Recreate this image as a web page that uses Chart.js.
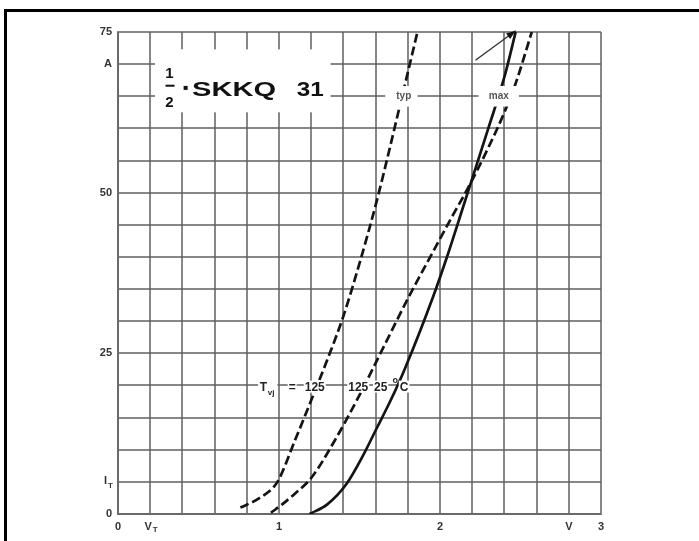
<!DOCTYPE html>
<html>
<head>
<meta charset="utf-8">
<script src="https://cdn.jsdelivr.net/npm/chart.js@4.4.1/dist/chart.umd.min.js"></script>
<style>
  html, body { margin: 0; padding: 0; background: #fff; overflow: hidden; }
  #wrap { width: 699px; height: 541px; position: relative; }
</style>
</head>
<body>
<div id="wrap"><canvas id="chart"></canvas></div>
<script>
// ── Data (V_T in volts, I_T in amps) ──────────────────────────────────────────
const TYP125_V = [0.76, 0.88, 0.99, 1.10, 1.20, 1.30, 1.40, 1.50, 1.61, 1.76, 1.86];
const TYP125_I = [1.0,  2.5,  5.0,  11.5, 17.7, 24,   30.8, 39,   49,   64.5, 75];

const MAX125_V = [0.95, 1.02, 1.10, 1.20, 1.35, 1.50, 1.65, 1.80, 1.95, 2.08, 2.18, 2.30, 2.40, 2.47, 2.57];
const MAX125_I = [0.2,  1.5,  3.2,  5.6,  11.6, 18.5, 26,   33.5, 40.5, 46.5, 51,   57,   62.5, 67,   75];

const MAX25_V  = [1.19, 1.30, 1.42, 1.52, 1.61, 1.69, 1.78, 1.96, 2.05, 2.14, 2.30, 2.40, 2.47];
const MAX25_I  = [0,    1.5,  4.7,  9.0,  13.5, 17.5, 22.5, 34,   40.5, 47.5, 60,   68,   75];

const X_LABELS = { 0: '0', 10: '1', 20: '2', 28: 'V', 30: '3' };   // keyed by tenths of a volt
const Y_LABELS = { 0: '0', 25: '25', 50: '50', 70: 'A', 75: '75' };

const INK  = '#141414';
const GRID = 'rgba(95,95,95,0.75)';
const TICK = '#333';
const FONT = 'Liberation Sans, Arial, sans-serif';

const pts = (xs, ys) => xs.map((x, i) => ({ x, y: ys[i] }));

function curveDS(label, data, dash) {
  return {
    label, data,
    showLine: true,
    borderColor: INK,
    borderWidth: 2.7,
    borderDash: dash,
    pointRadius: 0,
    cubicInterpolationMode: 'monotone',
    fill: false,
  };
}

// ── Annotations: title, curve tags, frame ─────────────────────────────────────
function stretchText(ctx, txt, x, y, width) {
  const w = ctx.measureText(txt).width;
  ctx.save();
  ctx.translate(x, y);
  ctx.scale(width / w, 1);
  ctx.fillText(txt, 0, 0);
  ctx.restore();
}

function whiteBox(ctx, x0, y0, x1, y1) {
  ctx.fillStyle = '#fff';
  ctx.fillRect(Math.min(x0, x1), Math.min(y0, y1), Math.abs(x1 - x0), Math.abs(y1 - y0));
}

// text with a white patch behind it, like the gaps in the scanned curves
function patchedText(ctx, txt, x, y, pad = 1) {
  const w = ctx.measureText(txt).width;
  const fill = ctx.fillStyle;
  whiteBox(ctx, x - pad, y - 10, x + w + pad, y + 2);
  ctx.fillStyle = fill;
  ctx.fillText(txt, x, y);
}

const annotations = {
  id: 'annotations',
  beforeDraw(chart) {
    const ctx = chart.ctx;
    ctx.save();
    ctx.fillStyle = '#000';
    ctx.fillRect(4, 9, 695, 3);     // frame top
    ctx.fillRect(4, 9, 3, 541 - 9); // frame left
    ctx.restore();
  },
  beforeDatasetsDraw(chart) {
    const { ctx, scales: { x, y } } = chart;
    const X = v => x.getPixelForValue(v);
    const Y = i => y.getPixelForValue(i);
    ctx.save();
    // title area is blank in the original
    whiteBox(ctx, X(0.23), Y(72.3), X(1.32), Y(62.5));
    ctx.fillStyle = '#111';
    ctx.textBaseline = 'alphabetic';
    ctx.font = `bold 15px ${FONT}`;
    ctx.textAlign = 'center';
    ctx.fillText('1', X(0.32), Y(67.8));
    ctx.fillRect(X(0.32) - 4, Y(66.8), 9, 2);
    ctx.fillText('2', X(0.32), Y(63.3));
    ctx.fillRect(X(0.42) - 2, Y(66.3) - 2, 4, 4);
    ctx.textAlign = 'left';
    ctx.font = `bold 21px ${FONT}`;
    stretchText(ctx, 'SKKQ', X(0.46), Y(65.0), 84);
    stretchText(ctx, '31', X(1.11), Y(65.0), 27);
    ctx.restore();
  },
  afterDatasetsDraw(chart) {
    const { ctx, scales: { x, y } } = chart;
    const X = v => x.getPixelForValue(v);
    const Y = i => y.getPixelForValue(i);
    ctx.save();

    // typ / max tags sitting on the 65 A line
    ctx.font = `bold 10px ${FONT}`;
    ctx.textAlign = 'center';
    ctx.textBaseline = 'middle';
    whiteBox(ctx, X(1.66), Y(66.6), X(1.86), Y(63.4));
    whiteBox(ctx, X(2.24), Y(66.6), X(2.49), Y(63.4));
    ctx.fillStyle = '#555';
    ctx.fillText('typ', X(1.775), Y(65.0));
    ctx.fillText('max', X(2.365), Y(65.0));

    // arrow from the max tag up to the curve ends
    ctx.strokeStyle = '#333';
    ctx.lineWidth = 1.4;
    const ax0 = X(2.22), ay0 = Y(70.6), ax1 = X(2.47), ay1 = Y(75.2);
    ctx.beginPath(); ctx.moveTo(ax0, ay0); ctx.lineTo(ax1, ay1); ctx.stroke();
    const ang = Math.atan2(ay1 - ay0, ax1 - ax0);
    ctx.fillStyle = INK;
    ctx.beginPath();
    ctx.moveTo(ax1, ay1);
    ctx.lineTo(ax1 - 10 * Math.cos(ang - 0.35), ay1 - 10 * Math.sin(ang - 0.35));
    ctx.lineTo(ax1 - 10 * Math.cos(ang + 0.35), ay1 - 10 * Math.sin(ang + 0.35));
    ctx.closePath(); ctx.fill();

    // T_vj = 125 125 25 °C
    ctx.textAlign = 'left';
    ctx.textBaseline = 'alphabetic';
    const base = Y(19.2);
    ctx.font = `bold 12px ${FONT}`;
    whiteBox(ctx, X(0.87), base - 11, X(0.99), base + 5);
    ctx.fillStyle = '#222';
    ctx.fillText('T', X(0.88), base);
    ctx.font = `bold 8px ${FONT}`;
    ctx.fillText('vj', X(0.88) + 8, base + 4);
    ctx.font = `bold 12px ${FONT}`;
    patchedText(ctx, '=', X(1.06), base);
    patchedText(ctx, '125', X(1.16), base);
    patchedText(ctx, '125', X(1.43), base);
    patchedText(ctx, '25', X(1.59), base);
    ctx.font = `bold 9px ${FONT}`;
    ctx.fillText('o', X(1.705), base - 8);
    ctx.font = `bold 12px ${FONT}`;
    patchedText(ctx, 'C', X(1.75), base);

    // subscripted tick labels: V_T on x, I_T on y
    ctx.fillStyle = TICK;
    ctx.font = `bold 11px ${FONT}`;
    ctx.textAlign = 'center';
    ctx.textBaseline = 'top';
    ctx.fillText('V', X(0.2) - 2, y.bottom + 7);
    ctx.font = `bold 8px ${FONT}`;
    ctx.fillText('T', X(0.2) + 5, y.bottom + 12);
    ctx.textAlign = 'right';
    ctx.textBaseline = 'middle';
    ctx.font = `bold 11px ${FONT}`;
    ctx.fillText('I', x.left - 11, Y(5) - 1);
    ctx.font = `bold 8px ${FONT}`;
    ctx.fillText('T', x.left - 5, Y(5) + 4);
    ctx.restore();
  },
};

// ── Chart ─────────────────────────────────────────────────────────────────────
new Chart(document.getElementById('chart').getContext('2d'), {
  type: 'scatter',
  data: {
    datasets: [
      curveDS('125 °C typ', pts(TYP125_V, TYP125_I), [9, 4]),
      curveDS('125 °C max', pts(MAX125_V, MAX125_I), [9, 4]),
      curveDS('25 °C max',  pts(MAX25_V,  MAX25_I),  []),
    ],
  },
  options: {
    responsive: true, maintainAspectRatio: false, animation: false,
    layout: { padding: { left: 0, right: 98, top: 32, bottom: 0 } },
    plugins: { legend: { display: false }, tooltip: { enabled: false } },
    scales: {
      x: {
        type: 'linear', min: 0, max: 3,
        ticks: {
          stepSize: 0.2, autoSkip: false, maxRotation: 0, padding: 6,
          color: TICK, font: { family: FONT, size: 11, weight: 'bold' },
          callback: v => X_LABELS[Math.round(v * 10)] ?? '',
        },
        grid: { color: GRID, lineWidth: 2, drawTicks: false },
        border: { color: GRID, width: 2 },
        afterFit: s => { s.height = 27; },
      },
      y: {
        type: 'linear', min: 0, max: 75,
        ticks: {
          stepSize: 5, autoSkip: false, padding: 6,
          color: TICK, font: { family: FONT, size: 11, weight: 'bold' },
          callback: v => Y_LABELS[Math.round(v)] ?? '',
        },
        grid: { color: GRID, lineWidth: 2, drawTicks: false },
        border: { color: GRID, width: 2 },
        afterFit: s => { s.width = 118; },
      },
    },
  },
  plugins: [annotations],
});
</script>
</body>
</html>
